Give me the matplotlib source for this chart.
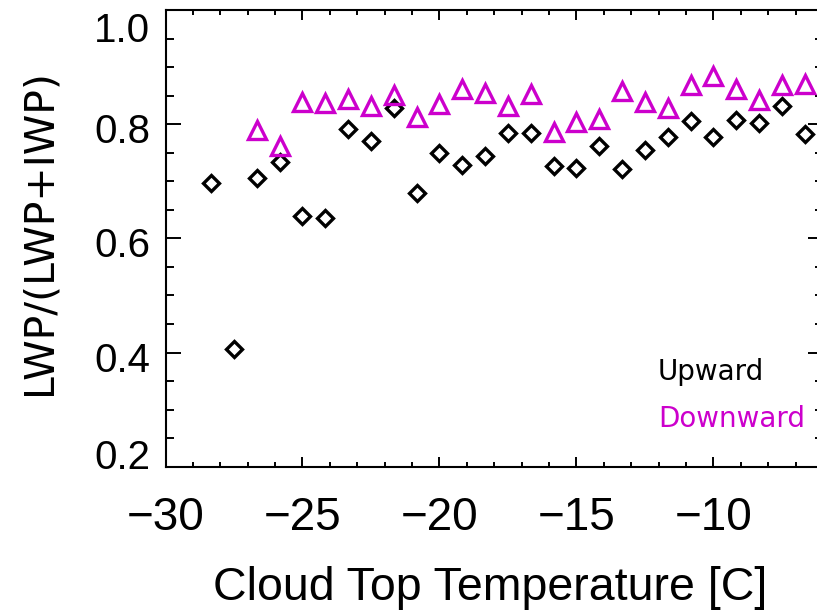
import matplotlib
matplotlib.use("Agg")
import matplotlib.pyplot as plt
from matplotlib.ticker import MultipleLocator, FixedLocator
from matplotlib.transforms import ScaledTranslation

# cloud top temperature bins [C]
temp_up = [-28.33, -27.50, -26.67, -25.83, -25.00, -24.17, -23.33, -22.50,
           -21.67, -20.83, -20.00, -19.17, -18.33, -17.50, -16.67, -15.83,
           -15.00, -14.17, -13.33, -12.50, -11.67, -10.83, -10.00, -9.17,
           -8.33, -7.50, -6.67]
ratio_up = [0.697, 0.406, 0.706, 0.733, 0.639, 0.636, 0.792, 0.770,
            0.829, 0.679, 0.749, 0.729, 0.744, 0.784, 0.784, 0.726,
            0.723, 0.761, 0.722, 0.754, 0.777, 0.805, 0.778, 0.807,
            0.802, 0.831, 0.783]

temp_down = [-26.67, -25.83, -25.00, -24.17, -23.33, -22.50, -21.67, -20.83,
             -20.00, -19.17, -18.33, -17.50, -16.67, -15.83, -15.00, -14.17,
             -13.33, -12.50, -11.67, -10.83, -10.00, -9.17, -8.33, -7.50,
             -6.67]
ratio_down = [0.790, 0.761, 0.838, 0.837, 0.844, 0.831, 0.851, 0.813,
              0.835, 0.862, 0.855, 0.832, 0.853, 0.787, 0.804, 0.809,
              0.858, 0.839, 0.829, 0.868, 0.884, 0.862, 0.842, 0.869,
              0.871]

xticks = [-30, -25, -20, -15, -10]
yticks = [0.2, 0.4, 0.6, 0.8, 1.0]

MAGENTA = "#cc00cc"
SANS = ["Liberation Sans", "DejaVu Sans"]

W, H = 817, 610
fig = plt.figure(figsize=(W / 100, H / 100), dpi=100)
# plot box runs past the right edge of the canvas
ax = fig.add_axes([165.5 / W, (H - 466.7) / H, (823 - 165.5) / W, (466.7 - 10) / H])

ax.plot(temp_up, ratio_up, linestyle="none", marker="D", markersize=8.5,
        markerfacecolor="none", markeredgecolor="black", markeredgewidth=2.4)
ax.plot(temp_down, ratio_down, linestyle="none", marker="^", markersize=13,
        markerfacecolor="none", markeredgecolor=MAGENTA, markeredgewidth=2.4)

ax.set_xlim(-30, -6)
ax.set_ylim(0.2, 1.0)
ax.xaxis.set_major_locator(FixedLocator(xticks))
ax.xaxis.set_minor_locator(MultipleLocator(1))
ax.yaxis.set_major_locator(FixedLocator(yticks))
ax.yaxis.set_minor_locator(MultipleLocator(0.05))
ax.yaxis.set_major_formatter(lambda v, pos: f"{v:.1f}")

for side in ax.spines.values():
    side.set_linewidth(1.5)

ax.tick_params(axis="x", which="both", direction="in", top=True, width=1.4)
ax.tick_params(axis="x", which="major", length=7.2, labelsize=33, pad=21,
               labelfontfamily=SANS)
ax.tick_params(axis="x", which="minor", length=3.6)
ax.tick_params(axis="y", which="both", direction="in", right=True, width=1.4)
ax.tick_params(axis="y", which="major", length=10.8, labelsize=29, pad=11,
               labelfontfamily=SANS)
ax.tick_params(axis="y", which="minor", length=5.5)

# end labels sit inside the box, the rest slightly below their ticks
shift_px = {0.2: -13, 1.0: 17}
for tick, v in zip(ax.yaxis.get_major_ticks(), yticks):
    dy = -shift_px.get(v, 4) / 100
    tick.label1.set_transform(tick.label1.get_transform()
                              + ScaledTranslation(0, dy, fig.dpi_scale_trans))

fig.text(40 / W, 1 - 232 / H, "LWP/(LWP+IWP)", rotation=90,
         ha="center", va="center", fontsize=29.5)
fig.text(490 / W, 1 - 600 / H, "Cloud Top Temperature [C]",
         ha="center", va="baseline", fontsize=33.5, family=SANS)

fig.text(658 / W, 1 - 380 / H, "Upward", color="black",
         ha="left", va="baseline", fontsize=20)
fig.text(658 / W, 1 - 426.7 / H, "Downward", color=MAGENTA,
         ha="left", va="baseline", fontsize=20)

fig.savefig("out.png", dpi=100)
